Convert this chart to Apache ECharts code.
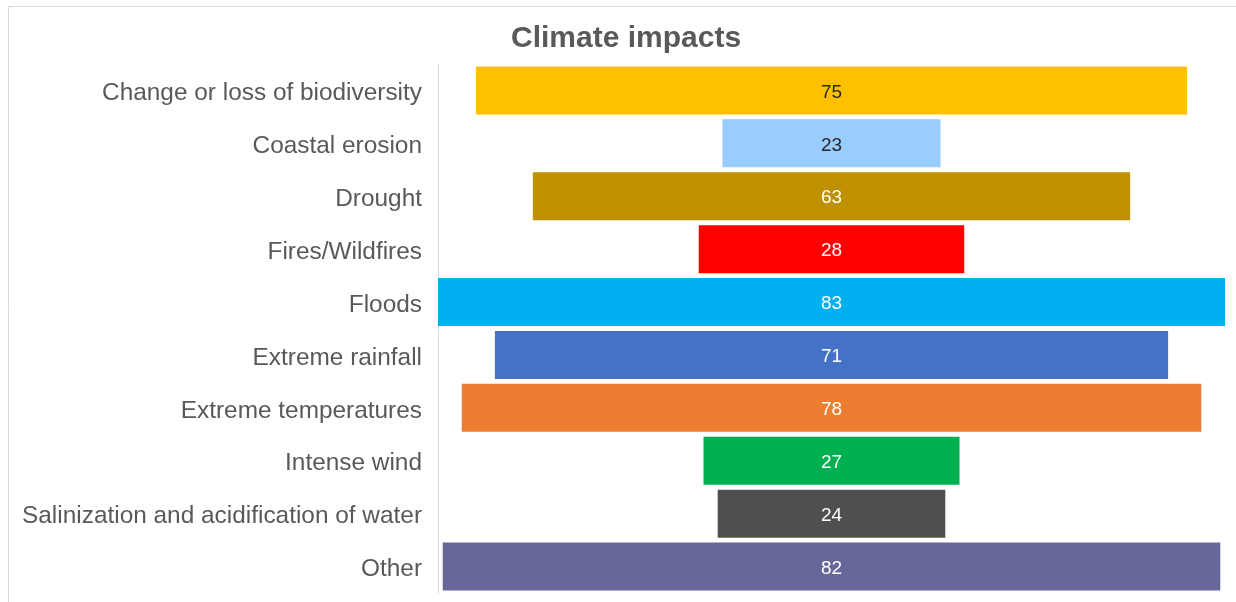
<!DOCTYPE html>
<html>
<head>
<meta charset="utf-8">
<style>
  html, body { margin: 0; padding: 0; background: #fff; }
  #chart { width: 1236px; height: 602px; }
</style>
<script src="https://cdn.jsdelivr.net/npm/echarts@6/dist/echarts.min.js"></script>
</head>
<body>
<div id="chart"></div>
<script>
// Climate impacts: number of mentions per impact type
const categories = [
  'Change or loss of biodiversity',
  'Coastal erosion',
  'Drought',
  'Fires/Wildfires',
  'Floods',
  'Extreme rainfall',
  'Extreme temperatures',
  'Intense wind',
  'Salinization and acidification of water',
  'Other'
];
const counts = [75, 23, 63, 28, 83, 71, 78, 27, 24, 82];
const barColors = ['#FFC000', '#99CCFF', '#BF9000', '#FF0000', '#00B0F0',
                   '#4472C4', '#ED7D31', '#00B050', '#4F4F4F', '#666699'];
const labelColors = ['#262626', '#262626', '#fff', '#fff', '#fff',
                     '#fff', '#fff', '#fff', '#fff', '#fff'];

const maxCount = Math.max(...counts);
// invisible spacer so every bar sits centred on the value axis
const spacer = counts.map(v => (maxCount - v) / 2);

const chart = echarts.init(document.getElementById('chart'));
chart.setOption({
  animation: false,
  graphic: [{
    type: 'rect',
    shape: { x: 8.5, y: 6.5, width: 1300, height: 700 },
    style: { fill: 'none', stroke: '#d9d9d9', lineWidth: 1 },
    silent: true
  }],
  title: {
    text: 'Climate impacts',
    left: 506,
    top: 19,
    textStyle: { fontFamily: 'Liberation Sans', fontSize: 30, fontWeight: 'bold', color: '#595959' }
  },
  grid: { left: 438, right: 11, top: 64, bottom: 9 },
  xAxis: {
    type: 'value',
    min: 0,
    max: maxCount,
    show: false
  },
  yAxis: {
    type: 'category',
    data: categories,
    inverse: true,
    axisLine: { show: true, lineStyle: { color: '#d9d9d9', width: 1 } },
    axisTick: { show: false },
    axisLabel: {
      margin: 16,
      formatter: v => '{c|' + v + '}',
      rich: {
        c: {
          fontFamily: 'Liberation Sans',
          fontSize: 24.4,
          color: '#595959',
          padding: [6, 0, 0, 0]
        }
      }
    }
  },
  series: [
    {
      type: 'bar',
      stack: 'c',
      data: spacer,
      barWidth: 48,
      itemStyle: { color: 'transparent' },
      silent: true
    },
    {
      type: 'bar',
      stack: 'c',
      barWidth: 48,
      data: counts.map((v, i) => ({
        value: v,
        itemStyle: { color: barColors[i] },
        label: { color: labelColors[i] }
      })),
      label: {
        show: true,
        position: 'inside',
        offset: [0, 2],
        fontFamily: 'Liberation Sans',
        fontSize: 19
      }
    }
  ]
});
</script>
</body>
</html>
